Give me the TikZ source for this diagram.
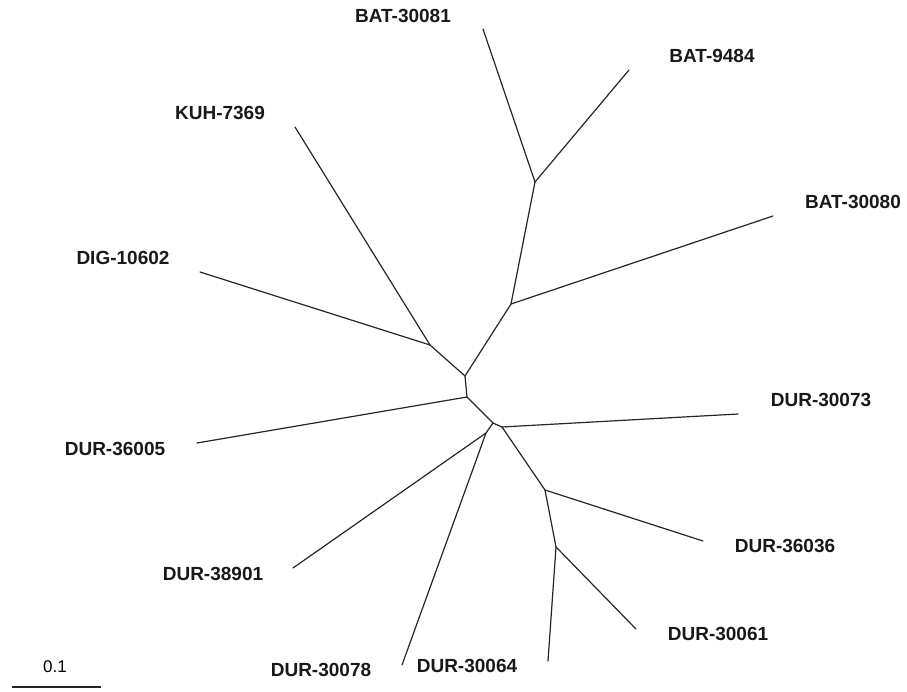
\documentclass[tikz,border=0pt]{standalone}
\usepackage{fontspec}
\setmainfont{Liberation Sans}
\begin{document}
\begin{tikzpicture}[x=1pt,y=-1pt,
  branch/.style={line width=1.2pt,line cap=round,line join=round,black!85},
  taxon/.style={font=\fontsize{19}{21}\selectfont\bfseries,inner sep=0pt,text height=0.716em,text depth=0pt,anchor=center,text=black!90},
  scalelabel/.style={font=\fontsize{17}{20}\selectfont,inner sep=0pt,text height=0.716em,text depth=0pt,anchor=center}]
\useasboundingbox[fill=white] (0,0) rectangle (907,692);
% internal nodes
\coordinate (N1) at (465,376);
\coordinate (K) at (430,345);
\coordinate (B1) at (511,304);
\coordinate (B2) at (535,182);
\coordinate (N2) at (467,397);
\coordinate (N3) at (493,423);
\coordinate (N5) at (486,433);
\coordinate (N4) at (502,427);
\coordinate (C) at (545,490);
\coordinate (D) at (556,547);
% tips
\coordinate (tKUH) at (295,127);
\coordinate (tDIG) at (200,272);
\coordinate (tB80) at (773,216);
\coordinate (tB81) at (483,29);
\coordinate (tB94) at (629,70);
\coordinate (t36005) at (197,443);
\coordinate (t38901) at (293,568);
\coordinate (t30078) at (402,665);
\coordinate (t30073) at (738,414);
\coordinate (t36036) at (703,541);
\coordinate (t30061) at (636,629);
\coordinate (t30064) at (548,661);
% branches
\draw[branch] (N1) -- (K);
\draw[branch] (K) -- (tKUH);
\draw[branch] (K) -- (tDIG);
\draw[branch] (N1) -- (B1);
\draw[branch] (B1) -- (tB80);
\draw[branch] (B1) -- (B2);
\draw[branch] (B2) -- (tB81);
\draw[branch] (B2) -- (tB94);
\draw[branch] (N1) -- (N2);
\draw[branch] (N2) -- (t36005);
\draw[branch] (N2) -- (N3);
\draw[branch] (N3) -- (N5);
\draw[branch] (N5) -- (t38901);
\draw[branch] (N5) -- (t30078);
\draw[branch] (N3) -- (N4);
\draw[branch] (N4) -- (t30073);
\draw[branch] (N4) -- (C);
\draw[branch] (C) -- (t36036);
\draw[branch] (C) -- (D);
\draw[branch] (D) -- (t30061);
\draw[branch] (D) -- (t30064);
% labels
\node[taxon] (lB81) at (403,19) {BAT-30081};
\node[taxon] (lB94) at (712,59) {BAT-9484};
\node[taxon] (lKUH) at (220,116) {KUH-7369};
\node[taxon] (lB80) at (853,205) {BAT-30080};
\node[taxon] (lDIG) at (123,261) {DIG-10602};
\node[taxon] (l30073) at (821,403) {DUR-30073};
\node[taxon] (l36005) at (115,452) {DUR-36005};
\node[taxon] (l36036) at (785,549) {DUR-36036};
\node[taxon] (l38901) at (213,577) {DUR-38901};
\node[taxon] (l30061) at (718,637) {DUR-30061};
\node[taxon] (l30078) at (321,673) {DUR-30078};
\node[taxon] (l30064) at (467,669) {DUR-30064};
% scale bar
\coordinate (sbL) at (12,687);
\coordinate (sbR) at (101,687);
\draw[branch,line cap=butt] (sbL) -- (sbR);
\node[scalelabel] (sbt) at (55,669) {0.1};
\end{tikzpicture}
\end{document}
